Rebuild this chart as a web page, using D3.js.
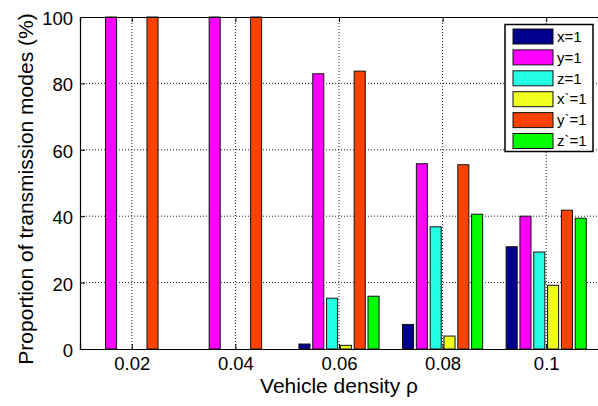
<!DOCTYPE html>
<html>
<head>
<meta charset="utf-8">
<script src="https://cdn.jsdelivr.net/npm/d3@7"></script>
<style>
  html, body { margin: 0; padding: 0; background: #fff; }
  svg { display: block; font-family: "Liberation Sans", Arial, sans-serif; }
</style>
</head>
<body>
<svg id="chart" width="598" height="406"></svg>
<script>
const densities = [0.02, 0.04, 0.06, 0.08, 0.1];
const densityLabels = ["0.02", "0.04", "0.06", "0.08", "0.1"];
const seriesNames = ["x=1", "y=1", "z=1", "x`=1", "y`=1", "z`=1"];
const seriesColors = ["#00008c", "#ff00ff", "#22ffe4", "#eeff1e", "#ff4200", "#00ff00"];
const xOne  = [0, 0, 1.5, 7.4, 30.8];
const yOne  = [100, 100, 82.9, 55.8, 40.0];
const zOne  = [0, 0, 15.3, 36.8, 29.2];
const xpOne = [0, 0, 1.1, 3.9, 19.2];
const ypOne = [100, 100, 83.7, 55.5, 41.8];
const zpOne = [0, 0, 15.9, 40.6, 39.4];
const yTicks = [0, 20, 40, 60, 80, 100];

const series = [xOne, yOne, zOne, xpOne, ypOne, zpOne];

const svg = d3.select("#chart");
const pLeft = 80, pRight = 598, pTop = 17, pBottom = 349;

const x = d3.scaleLinear().domain([0.01, 0.11]).range([pLeft, pRight]);
const y = d3.scaleLinear().domain([0, 100]).range([pBottom, pTop]);

const spacing = x(0.04) - x(0.02);
const pitch = spacing * 0.8 / seriesNames.length;
const barW = pitch * 0.8;

// grid
const grid = svg.append("g");
grid.selectAll("line.gy").data(yTicks.filter(d => d > 0 && d < 100)).enter().append("line")
  .attr("x1", pLeft).attr("x2", pRight).attr("y1", d => y(d)).attr("y2", d => y(d))
  .attr("stroke", "#222").attr("stroke-width", 1).attr("stroke-dasharray", "1,2");
grid.selectAll("line.gx").data(densities).enter().append("line")
  .attr("x1", d => x(d)).attr("x2", d => x(d)).attr("y1", pTop).attr("y2", pBottom)
  .attr("stroke", "#222").attr("stroke-width", 1).attr("stroke-dasharray", "1,2");

// bars
series.forEach((vals, si) => {
  svg.append("g").selectAll("rect").data(vals).enter().append("rect")
    .attr("x", (d, i) => x(densities[i]) + (si - 2.5) * pitch - barW / 2)
    .attr("width", barW)
    .attr("y", d => y(d))
    .attr("height", d => y(0) - y(d))
    .attr("fill", seriesColors[si])
    .attr("stroke", d => d > 0 ? "#111" : "none")
    .attr("stroke-width", 1);
});

// axes
const xAxisB = d3.axisBottom(x).tickValues(densities).tickFormat((d, i) => densityLabels[i]).tickSize(-5);
const xAxisT = d3.axisTop(x).tickValues(densities).tickFormat("").tickSize(-5);
const yAxisL = d3.axisLeft(y).tickValues(yTicks).tickSize(-5).tickPadding(7);

const gb = svg.append("g").attr("transform", `translate(0,${pBottom})`).call(xAxisB);
const gt = svg.append("g").attr("transform", `translate(0,${pTop})`).call(xAxisT);
const gl = svg.append("g").attr("transform", `translate(${pLeft},0)`).call(yAxisL);
[gb, gt, gl].forEach(g => {
  g.select(".domain").attr("stroke", "#000").attr("stroke-width", 1.2);
  g.selectAll(".tick line").attr("stroke", "#000");
  g.selectAll("text").attr("font-size", 18.5).attr("fill", "#000")
   .attr("font-family", '"Liberation Sans", Arial, sans-serif');
});
gb.selectAll(".tick text").attr("y", 21).attr("dy", 0);
gl.selectAll(".tick text").attr("dy", "0.4em");

// axis labels
svg.append("text").attr("x", 339).attr("y", 393).attr("text-anchor", "middle")
  .attr("font-size", 21).text("Vehicle density ρ");
svg.append("text").attr("transform", "translate(32.5,189) rotate(-90)").attr("text-anchor", "middle")
  .attr("font-size", 21).text("Proportion of transmission modes (%)");

// legend
const lg = svg.append("g");
lg.append("rect").attr("x", 505).attr("y", 24.5).attr("width", 88).attr("height", 127)
  .attr("fill", "#fff").attr("stroke", "#000").attr("stroke-width", 1.5);
const items = lg.selectAll("g.item").data(seriesNames).enter().append("g")
  .attr("transform", (d, i) => `translate(0,${29 + i * 20.9})`);
items.append("rect").attr("x", 513).attr("y", 0).attr("width", 40).attr("height", 15)
  .attr("fill", (d, i) => seriesColors[i]).attr("stroke", "#111").attr("stroke-width", 1);
items.append("text").attr("x", 557).attr("y", 7.5).attr("dy", "0.35em")
  .attr("font-size", 15).text(d => d);
</script>
</body>
</html>
